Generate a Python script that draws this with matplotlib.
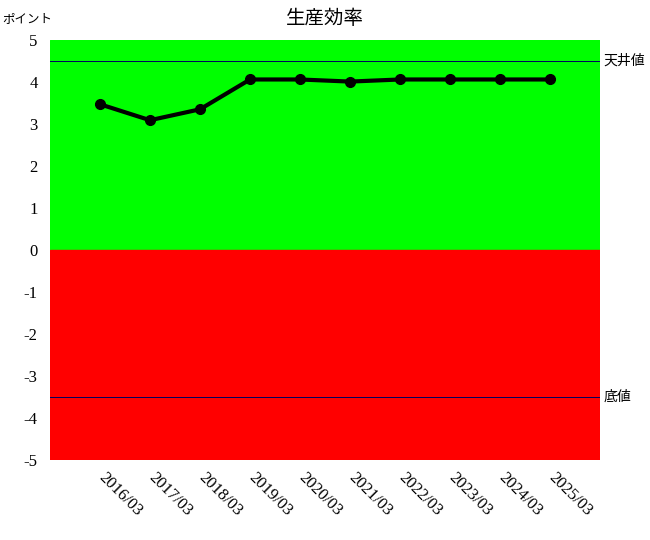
import matplotlib
matplotlib.use("Agg")
import matplotlib.pyplot as plt
from matplotlib.transforms import ScaledTranslation

plt.rcParams['font.family'] = 'serif'
plt.rcParams['font.serif'] = ['Liberation Serif', 'DejaVu Serif']

categories = ["2016/03", "2017/03", "2018/03", "2019/03", "2020/03",
              "2021/03", "2022/03", "2023/03", "2024/03", "2025/03"]
values = [3.47, 3.09, 3.35, 4.06, 4.06, 4.01, 4.06, 4.06, 4.06, 4.06]
ceiling = 4.5
floor = -3.5
y_ticks = [5, 4, 3, 2, 1, 0, -1, -2, -3, -4, -5]

fig = plt.figure(figsize=(6.5, 5.4), dpi=100)
ax = fig.add_axes([50/650, 1 - 460/540, 550/650, 420/540])

ax.axhspan(0, 5, color='#00ff00', zorder=0)
ax.axhspan(-5, 0, color='#ff0000', zorder=0)
ax.axhline(ceiling, color='#000060', lw=0.7, zorder=1)
ax.axhline(floor, color='#000060', lw=0.7, zorder=1)

x = list(range(len(categories)))
ax.plot(x, values, color='black', lw=3, marker='o', markersize=7, zorder=3)

ax.set_xlim(-1, len(categories))
ax.set_ylim(-5, 5)
ax.set_yticks(y_ticks)
ax.set_yticklabels([str(v) for v in y_ticks], fontsize=12, family='Liberation Serif')
ax.set_xticks(x)
ax.set_xticklabels(categories, fontsize=12, rotation=-45, ha='left', va='top',
                   rotation_mode='anchor', family='Liberation Serif')
ax.tick_params(axis='y', length=0, pad=9)
ax.tick_params(axis='x', length=0, pad=7)
for lbl in ax.get_xticklabels():
    lbl.set_transform(lbl.get_transform() + ScaledTranslation(7/100, 0, fig.dpi_scale_trans))
for s in ax.spines.values():
    s.set_visible(False)

ax.text(1.007, (ceiling + 5) / 10, "天井値", transform=ax.transAxes,
        ha='left', va='center', fontsize=10, family=['Noto Sans CJK JP'])
ax.text(1.007, (floor + 5) / 10, "底値", transform=ax.transAxes,
        ha='left', va='center', fontsize=10, family=['Noto Sans CJK JP'])

fig.text(2/650, 1 - 19/540, "ポイント", ha='left', va='center', fontsize=9,
         family=['Noto Sans CJK JP'])
fig.text(325/650, 1 - 18/540, "生産効率", ha='center', va='center', fontsize=14,
         family=['Noto Sans CJK JP'])

fig.savefig("out.png", dpi=100)
